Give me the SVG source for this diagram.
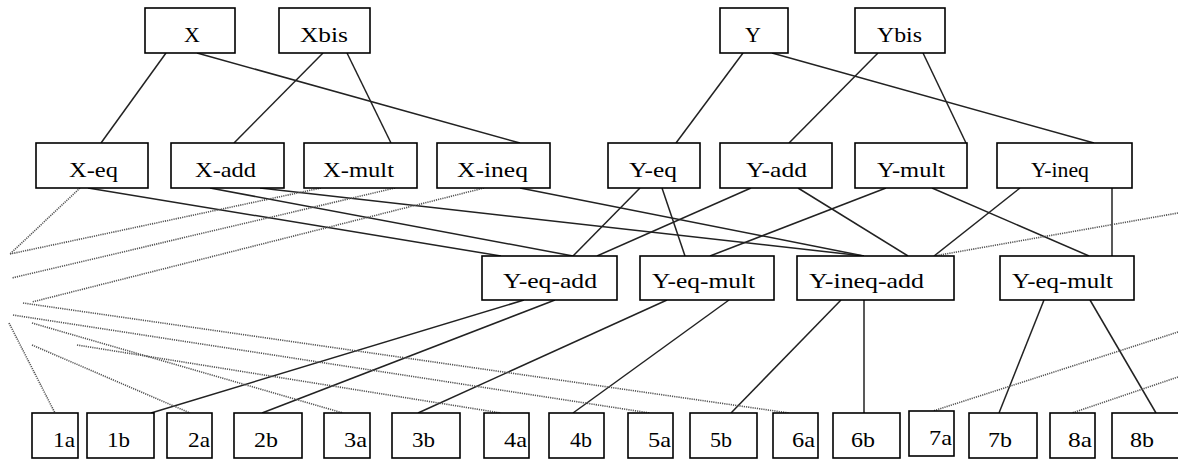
<svg xmlns="http://www.w3.org/2000/svg" width="1178" height="459" viewBox="0 0 1178 459">
<style>
.n rect{fill:#fff;stroke:#000;stroke-width:1.6}
.n text{font-family:"Liberation Serif",serif;font-size:22px;fill:#000}
.e line{stroke:#222;stroke-width:1.5}
.d line{stroke:#555;stroke-width:1.6;stroke-dasharray:1.2 1}
</style>
<rect width="1178" height="459" fill="#fff"/>
<g id="connectors">
<g class="e">
<line x1="166" y1="53" x2="101" y2="143"/>
<line x1="197" y1="53" x2="520" y2="143"/>
<line x1="323" y1="53" x2="234" y2="143"/>
<line x1="347" y1="53" x2="391" y2="143"/>
<line x1="743" y1="53" x2="676" y2="143"/>
<line x1="772" y1="53" x2="1094" y2="143"/>
<line x1="878" y1="53" x2="789" y2="143"/>
<line x1="923" y1="53" x2="966" y2="143"/>
<line x1="88" y1="188" x2="501" y2="256"/>
<line x1="210" y1="188" x2="573" y2="256"/>
<line x1="260" y1="188" x2="864" y2="256"/>
<line x1="520" y1="188" x2="864" y2="256"/>
<line x1="640" y1="188" x2="573" y2="256"/>
<line x1="662" y1="188" x2="685" y2="256"/>
<line x1="751" y1="188" x2="597" y2="256"/>
<line x1="798" y1="188" x2="908" y2="256"/>
<line x1="886" y1="188" x2="710" y2="256"/>
<line x1="932" y1="188" x2="1089" y2="256"/>
<line x1="1020" y1="188" x2="934" y2="256"/>
<line x1="1112" y1="188" x2="1112" y2="256"/>
<line x1="524" y1="300" x2="151" y2="413"/>
<line x1="555" y1="300" x2="262" y2="413"/>
<line x1="667" y1="300" x2="418" y2="413"/>
<line x1="729" y1="300" x2="573" y2="413"/>
<line x1="841" y1="300" x2="731" y2="413"/>
<line x1="864" y1="300" x2="864" y2="413"/>
<line x1="1044" y1="300" x2="999" y2="413"/>
<line x1="1090" y1="300" x2="1156" y2="413"/>
</g>
<g class="d">
<line x1="80" y1="188" x2="10" y2="254"/>
<line x1="321" y1="188" x2="10" y2="254"/>
<line x1="395" y1="188" x2="12" y2="278"/>
<line x1="484" y1="188" x2="32" y2="302"/>
<line x1="23" y1="303" x2="789" y2="413"/>
<line x1="13" y1="315" x2="650" y2="413"/>
<line x1="32" y1="323" x2="343" y2="413"/>
<line x1="9" y1="323" x2="55" y2="413"/>
<line x1="32" y1="345" x2="190" y2="413"/>
<line x1="77" y1="345" x2="501" y2="413"/>
<line x1="1178" y1="213" x2="934" y2="256"/>
<line x1="1178" y1="332" x2="933" y2="411"/>
<line x1="1178" y1="377" x2="1072" y2="413"/>
</g>
</g>
<g id="X" class="n"><rect x="145" y="8" width="90" height="45"/><text x="184" y="42">X</text></g>
<g id="Xbis" class="n"><rect x="279" y="8" width="91" height="45"/><text x="300" y="42" textLength="48" lengthAdjust="spacingAndGlyphs">Xbis</text></g>
<g id="Y" class="n"><rect x="720" y="8" width="68" height="45"/><text x="745" y="42">Y</text></g>
<g id="Ybis" class="n"><rect x="855" y="8" width="90" height="45"/><text x="877" y="42" textLength="45" lengthAdjust="spacingAndGlyphs">Ybis</text></g>
<g id="X-eq" class="n"><rect x="36" y="143" width="112" height="45"/><text x="69" y="177" textLength="49" lengthAdjust="spacingAndGlyphs">X-eq</text></g>
<g id="X-add" class="n"><rect x="171" y="143" width="113" height="45"/><text x="195" y="177" textLength="61" lengthAdjust="spacingAndGlyphs">X-add</text></g>
<g id="X-mult" class="n"><rect x="304" y="143" width="113" height="45"/><text x="323" y="177" textLength="71" lengthAdjust="spacingAndGlyphs">X-mult</text></g>
<g id="X-ineq" class="n"><rect x="437" y="143" width="113" height="45"/><text x="457" y="177" textLength="71" lengthAdjust="spacingAndGlyphs">X-ineq</text></g>
<g id="Y-eq" class="n"><rect x="608" y="143" width="92" height="45"/><text x="629" y="177" textLength="48" lengthAdjust="spacingAndGlyphs">Y-eq</text></g>
<g id="Y-add" class="n"><rect x="720" y="143" width="112" height="45"/><text x="746" y="177" textLength="61" lengthAdjust="spacingAndGlyphs">Y-add</text></g>
<g id="Y-mult" class="n"><rect x="855" y="143" width="112" height="45"/><text x="877" y="177" textLength="68" lengthAdjust="spacingAndGlyphs">Y-mult</text></g>
<g id="Y-ineq" class="n"><rect x="997" y="143" width="135" height="45"/><text x="1031" y="177" textLength="58" lengthAdjust="spacingAndGlyphs">Y-ineq</text></g>
<g id="Y-eq-add" class="n"><rect x="482" y="256" width="135" height="44"/><text x="503" y="288" textLength="94" lengthAdjust="spacingAndGlyphs">Y-eq-add</text></g>
<g id="Y-eq-mult" class="n"><rect x="640" y="256" width="134" height="44"/><text x="652" y="288" textLength="103" lengthAdjust="spacingAndGlyphs">Y-eq-mult</text></g>
<g id="Y-ineq-add" class="n"><rect x="797" y="256" width="157" height="44"/><text x="809" y="288" textLength="115" lengthAdjust="spacingAndGlyphs">Y-ineq-add</text></g>
<g id="Y-eq-mult-2" class="n"><rect x="1000" y="256" width="134" height="44"/><text x="1012" y="288" textLength="101" lengthAdjust="spacingAndGlyphs">Y-eq-mult</text></g>
<g id="n1a" class="n"><rect x="32" y="413" width="46" height="45"/><text x="53" y="447" textLength="22" lengthAdjust="spacingAndGlyphs">1a</text></g>
<g id="n1b" class="n"><rect x="87" y="413" width="67" height="45"/><text x="107" y="447" textLength="23" lengthAdjust="spacingAndGlyphs">1b</text></g>
<g id="n2a" class="n"><rect x="167" y="413" width="45" height="45"/><text x="188" y="447" textLength="22" lengthAdjust="spacingAndGlyphs">2a</text></g>
<g id="n2b" class="n"><rect x="234" y="413" width="68" height="45"/><text x="254" y="447" textLength="24" lengthAdjust="spacingAndGlyphs">2b</text></g>
<g id="n3a" class="n"><rect x="324" y="413" width="46" height="45"/><text x="344" y="447" textLength="23" lengthAdjust="spacingAndGlyphs">3a</text></g>
<g id="n3b" class="n"><rect x="392" y="413" width="68" height="45"/><text x="412" y="447" textLength="23" lengthAdjust="spacingAndGlyphs">3b</text></g>
<g id="n4a" class="n"><rect x="484" y="413" width="45" height="45"/><text x="504" y="447" textLength="23" lengthAdjust="spacingAndGlyphs">4a</text></g>
<g id="n4b" class="n"><rect x="549" y="413" width="55" height="45"/><text x="570" y="447" textLength="22" lengthAdjust="spacingAndGlyphs">4b</text></g>
<g id="n5a" class="n"><rect x="628" y="413" width="45" height="45"/><text x="648" y="447" textLength="23" lengthAdjust="spacingAndGlyphs">5a</text></g>
<g id="n5b" class="n"><rect x="690" y="413" width="67" height="45"/><text x="710" y="447" textLength="22" lengthAdjust="spacingAndGlyphs">5b</text></g>
<g id="n6a" class="n"><rect x="773" y="413" width="45" height="45"/><text x="792" y="447" textLength="23" lengthAdjust="spacingAndGlyphs">6a</text></g>
<g id="n6b" class="n"><rect x="833" y="413" width="67" height="45"/><text x="851" y="447" textLength="24" lengthAdjust="spacingAndGlyphs">6b</text></g>
<g id="n7a" class="n"><rect x="909" y="411" width="45" height="45"/><text x="929" y="445" textLength="23" lengthAdjust="spacingAndGlyphs">7a</text></g>
<g id="n7b" class="n"><rect x="969" y="413" width="68" height="45"/><text x="988" y="447" textLength="24" lengthAdjust="spacingAndGlyphs">7b</text></g>
<g id="n8a" class="n"><rect x="1050" y="413" width="45" height="45"/><text x="1068" y="447" textLength="24" lengthAdjust="spacingAndGlyphs">8a</text></g>
<g id="n8b" class="n"><rect x="1112" y="413" width="67" height="45"/><text x="1130" y="447" textLength="24" lengthAdjust="spacingAndGlyphs">8b</text></g>
</svg>
